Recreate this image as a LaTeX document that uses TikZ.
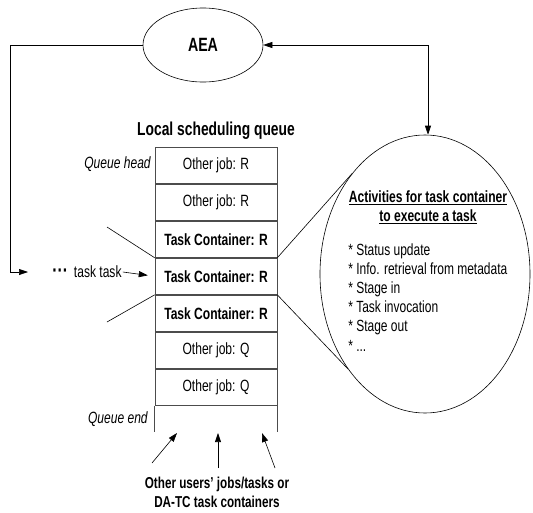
\documentclass[tikz,border=0pt]{standalone}
\usepackage{fontspec}
\setmainfont{Liberation Sans}[FakeStretch=0.74]
\usetikzlibrary{arrows.meta,positioning,shapes.geometric,calc}

\newcommand\cellfont{\fontsize{16.3}{19}\selectfont}
\newcommand\listfont{\fontsize{16.2}{19.2}\selectfont}

\begin{document}
\begin{tikzpicture}[x=1pt,y=-1pt,>={Triangle[length=9pt,width=6pt]},line width=0.6pt]
  \tikzstyle{cell}=[draw=black!70,minimum width=122pt,minimum height=36.43pt,inner sep=0pt,font=\cellfont]
  \tikzstyle{tc}=[cell,font=\cellfont\bfseries]
  \tikzstyle{side}=[anchor=east,inner sep=0pt,font=\cellfont\itshape]

  \useasboundingbox (0,0) rectangle (533,512);

  % the queue itself
  \node[cell] (c1) at (216,165.2) {Other job: R};
  \node[cell] (c2) [below=0pt of c1] {Other job: R};
  \node[tc]   (c3) [below=0pt of c2] {Task Container: R};
  \node[tc]   (c4) [below=0pt of c3] {Task Container: R};
  \node[tc]   (c5) [below=0pt of c4] {Task Container: R};
  \node[cell] (c6) [below=0pt of c5] {Other job: Q};
  \node[cell] (c7) [below=0pt of c6] {Other job: Q};
  \coordinate (qendl) at ($(c7.south west)+(0,26)$);
  \coordinate (qendr) at ($(c7.south east)+(0,26)$);
  \draw[black!70] (c7.south west) -- (qendl) (c7.south east) -- (qendr);

  \node[font=\fontsize{18.7}{21}\selectfont\bfseries] (qtitle) at (216,131) {Local scheduling queue};
  \node[side] (qhead) at (151,164) {Queue head};
  \node[side] (qend)  at (148,419) {Queue end};

  % agent and the task container activities
  \node[ellipse,draw,minimum width=120pt,minimum height=74pt,font=\fontsize{19.2}{21}\selectfont\bfseries] (aea) at (203,45) {AEA};
  \node[ellipse,draw,minimum width=210pt,minimum height=278pt] (acts) at (425,274) {};
  \node[align=center,font=\cellfont\bfseries] (actshead) at (428,207)
    {\underline{Activities for task container}\\\underline{to execute a task}};
  \node[anchor=north west,align=left,inner sep=0pt,font=\listfont] (actslist) at (348,243)
    {* Status update\\* Info. retrieval from metadata\\* Stage in\\* Task invocation\\* Stage out\\* ...};

  % incoming tasks
  \node[font=\cellfont,inner sep=1pt] (incoming) at (87,272)
    {{\fontsize{21}{21}\selectfont\textbf{···}}\hspace{6pt}task task};
  \node[align=center,font=\fontsize{15.8}{19}\selectfont\bfseries] (others) at (217,492)
    {Other users’ jobs/tasks or\\DA-TC task containers};

  \coordinate (lturn) at (10,45);
  \coordinate (feedin) at (28,272);
  \coordinate (rturn) at (428,45);
  \coordinate (zul) at (107,227);
  \coordinate (zll) at (107,322);
  \coordinate (src1) at (152,463);
  \coordinate (src2) at (218,468);
  \coordinate (src3) at (275,468);
  \coordinate (dst1) at (177,433);
  \coordinate (dst2) at (218,433);
  \coordinate (dst3) at (262,433);

  \draw[->] (aea.west) -- (lturn) |- (feedin);
  \draw[<->] (aea.east) -- (rturn) -- (rturn |- acts.north);
  \draw[->,shorten >=7pt] (incoming.east) -- (c4.west);

  % magnified cell
  \draw (zul) -- (c4.north west);
  \draw (c4.south west) -- (zll);
  \draw (c4.north east) -- (acts.126);
  \draw (c4.south east) -- (acts.231);

  \draw[->] (src1) -- (dst1);
  \draw[->] (src2) -- (dst2);
  \draw[->] (src3) -- (dst3);
\end{tikzpicture}
\end{document}
